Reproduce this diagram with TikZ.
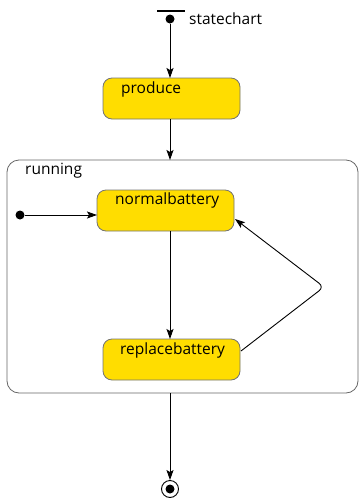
\documentclass[tikz,border=0pt]{standalone}
\usepackage{fontspec}
\setmainfont{Open Sans}
\usetikzlibrary{arrows.meta}
\begin{document}
\begin{tikzpicture}[x=1pt,y=-1pt,
  state/.style={draw=black!55,fill={rgb,255:red,255;green,221;blue,0},rounded corners=9pt,line width=0.8pt},
  label/.style={anchor=west,inner sep=0pt,font=\fontsize{15.5}{18}\selectfont},
  flow/.style={draw=black,line width=0.9pt,-{Stealth[length=10pt,width=7pt,inset=2pt]}},
  dot/.style={circle,fill=black,inner sep=0pt,minimum size=9pt}]
\useasboundingbox (0,0) rectangle (359,501);

% top-level initial pseudostate with its bar
\draw[line width=2pt] (157,11) -- (185,11);
\node[dot] (init) at (170,19) {};
\node[label] (chartname) at (189,19) {statechart};

% produce state
\draw[state] (103,78) rectangle (240,119);
\coordinate (produceTop) at (170,78);
\coordinate (produceBot) at (170,119);
\node[label] (produceLbl) at (121,89) {produce};

% composite state "running"
\draw[draw=black!60,line width=0.8pt,rounded corners=12pt] (7,160) rectangle (358,393);
\coordinate (runTop) at (170,160);
\coordinate (runBot) at (170,393);
\node[label] (runLbl) at (25,171) {running};

% inner states
\draw[state] (97,190) rectangle (234,231);
\node[label] (normLbl) at (115,200) {normalbattery};
\coordinate (normLeft) at (97,215);
\coordinate (normBot) at (170,231);
\coordinate (normRight) at (235,219);

\draw[state] (103,339) rectangle (240,380);
\node[label] (replLbl) at (120,350) {replacebattery};
\coordinate (replTop) at (170,339);
\coordinate (replRight) at (241,351);

\node[dot] (innerInit) at (20,215) {};
\coordinate (bend) at (324,287);

% final state
\node[circle,draw=black,line width=0.9pt,minimum size=17pt,inner sep=0pt] (final) at (170,489) {};
\node[dot] (finalDot) at (final) {};

% transitions
\draw[flow] (init) -- (produceTop);
\draw[flow] (produceBot) -- (runTop);
\draw[flow] (innerInit) -- (normLeft);
\draw[flow] (normBot) -- (replTop);
\draw[flow,rounded corners=6pt] (replRight) -- (bend) -- (normRight);
\draw[flow] (runBot) -- (final);
\end{tikzpicture}
\end{document}
